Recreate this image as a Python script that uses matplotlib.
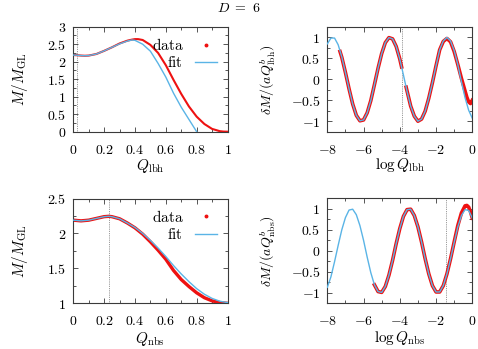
import matplotlib
matplotlib.use("Agg")
import matplotlib.pyplot as plt
from matplotlib.lines import Line2D
from matplotlib.ticker import MultipleLocator, FuncFormatter

plt.rcParams['mathtext.fontset'] = 'cm'
plt.rcParams['font.family'] = ['DejaVu Serif']

# ---------------- data ----------------
# top-left: M/M_GL vs Q_lbh
lbh_data_x = [0.0, 0.025, 0.05, 0.075, 0.1, 0.15, 0.2, 0.25, 0.3, 0.35, 0.38, 0.4, 0.42, 0.45,
              0.5, 0.55, 0.6, 0.65, 0.7, 0.75, 0.8, 0.85, 0.9, 0.95, 0.975, 1.0]
lbh_data_y = [2.19, 2.185, 2.175, 2.17, 2.175, 2.22, 2.31, 2.41, 2.52, 2.60, 2.63, 2.645, 2.645, 2.62,
              2.48, 2.25, 1.90, 1.48, 1.08, 0.72, 0.43, 0.22, 0.08, 0.015, 0.003, 0.0]
lbh_fit_x = [0.0, 0.025, 0.05, 0.075, 0.1, 0.15, 0.2, 0.25, 0.3, 0.35, 0.38, 0.4, 0.45,
             0.5, 0.55, 0.6, 0.65, 0.7, 0.75, 0.8, 0.81]
lbh_fit_y = [2.19, 2.185, 2.175, 2.17, 2.175, 2.22, 2.31, 2.41, 2.51, 2.59, 2.62, 2.61, 2.50,
             2.30, 1.95, 1.56, 1.10, 0.70, 0.35, 0.0, -0.08]
lbh_mark = 0.026

# top-right: deltaM/(aQ^b) vs log Q_lbh
lbh_log_fit_x = [-8.0, -7.8, -7.6, -7.4, -7.2, -7.0, -6.8, -6.6, -6.4, -6.2, -6.0, -5.8, -5.6, -5.4,
                 -5.2, -5.0, -4.8, -4.6, -4.4, -4.2, -4.0, -3.8, -3.6, -3.4, -3.2, -3.0, -2.8, -2.6,
                 -2.4, -2.2, -2.0, -1.8, -1.6, -1.4, -1.2, -1.0, -0.8, -0.6, -0.4, -0.2, 0.0]
lbh_log_fit_y = [0.84, 0.98, 0.98, 0.82, 0.53, 0.16, -0.23, -0.59, -0.86, -0.99, -0.97, -0.80, -0.51, -0.13,
                 0.26, 0.61, 0.87, 0.99, 0.96, 0.78, 0.48, 0.10, -0.29, -0.64, -0.88, -1.00, -0.95, -0.76,
                 -0.45, -0.08, 0.32, 0.70, 0.91, 0.995, 0.91, 0.68, 0.35, -0.06, -0.44, -0.74, -0.93]
lbh_log_data1_x = [-7.3, -7.2, -7.0, -6.8, -6.6, -6.4, -6.2, -6.0, -5.8, -5.6, -5.4, -5.2, -5.0,
                   -4.8, -4.6, -4.4, -4.2, -4.0, -3.9]
lbh_log_data1_y = [0.66, 0.52, 0.16, -0.23, -0.59, -0.86, -0.99, -0.97, -0.80, -0.51, -0.13, 0.26, 0.61,
                   0.87, 0.99, 0.96, 0.78, 0.48, 0.29]
lbh_log_data2_x = [-3.65, -3.4, -3.2, -3.0, -2.8, -2.6, -2.4, -2.2, -2.0, -1.8, -1.6, -1.4, -1.2,
                   -1.0, -0.8, -0.6, -0.4, -0.3, -0.2, -0.1, 0.0]
lbh_log_data2_y = [-0.19, -0.64, -0.88, -1.00, -0.95, -0.76, -0.45, -0.08, 0.32, 0.70, 0.90, 0.97, 0.89,
                   0.66, 0.35, 0.02, -0.28, -0.43, -0.54, -0.58, -0.50]
lbh_log_mark = -3.86

# bottom-left: M/M_GL vs Q_nbs
nbs_data_x = [0.0, 0.05, 0.1, 0.15, 0.2, 0.23, 0.25, 0.3, 0.35, 0.4, 0.45, 0.5, 0.55, 0.6, 0.65,
              0.7, 0.75, 0.8, 0.85, 0.9, 0.95, 1.0]
nbs_data_y = [2.19, 2.18, 2.19, 2.215, 2.24, 2.245, 2.24, 2.21, 2.15, 2.08, 1.99, 1.88, 1.76, 1.63, 1.47,
              1.34, 1.24, 1.15, 1.08, 1.035, 1.01, 1.0]
nbs_fit_x = [0.0, 0.05, 0.1, 0.15, 0.2, 0.23, 0.25, 0.3, 0.35, 0.4, 0.45, 0.5, 0.55, 0.6, 0.65,
             0.7, 0.75, 0.8, 0.85, 0.9, 0.95, 1.0]
nbs_fit_y = [2.19, 2.18, 2.19, 2.215, 2.24, 2.245, 2.24, 2.21, 2.15, 2.085, 2.0, 1.90, 1.79, 1.67, 1.54,
             1.42, 1.31, 1.21, 1.13, 1.07, 1.03, 1.01]
nbs_mark = 0.23

# bottom-right: deltaM/(aQ^b) vs log Q_nbs
nbs_log_fit_x = [-8.0, -7.8, -7.6, -7.4, -7.2, -7.0, -6.8, -6.6, -6.4, -6.2, -6.0, -5.8, -5.6, -5.4,
                 -5.2, -5.0, -4.8, -4.6, -4.4, -4.2, -4.0, -3.8, -3.6, -3.4, -3.2, -3.0, -2.8, -2.6,
                 -2.4, -2.2, -2.0, -1.8, -1.6, -1.4, -1.2, -1.0, -0.8, -0.6, -0.4, -0.2, 0.0]
nbs_log_fit_y = [-0.87, -0.62, -0.26, 0.13, 0.50, 0.79, 0.97, 0.99, 0.86, 0.60, 0.25, -0.15, -0.52, -0.81,
                 -0.97, -0.99, -0.85, -0.58, -0.23, 0.17, 0.53, 0.82, 0.98, 0.99, 0.84, 0.57, 0.21, -0.19,
                 -0.55, -0.83, -0.98, -0.98, -0.83, -0.55, -0.19, 0.20, 0.57, 0.84, 0.98, 0.96, 0.78]
nbs_log_data_x = [-5.4, -5.2, -5.0, -4.8, -4.6, -4.4, -4.2, -4.0, -3.8, -3.6, -3.4, -3.2, -3.0, -2.8,
                  -2.6, -2.4, -2.2, -2.0, -1.8, -1.6, -1.4, -1.2, -1.0, -0.8, -0.6, -0.4, -0.3, -0.2,
                  -0.1, 0.0]
nbs_log_data_y = [-0.81, -0.97, -0.99, -0.85, -0.58, -0.23, 0.17, 0.53, 0.82, 0.98, 0.99, 0.84, 0.57, 0.21,
                  -0.19, -0.55, -0.83, -0.98, -0.98, -0.83, -0.55, -0.19, 0.21, 0.60, 0.90, 1.07, 1.08, 1.04,
                  0.93, 0.78]
nbs_log_mark = -1.47

# ---------------- style ----------------
RED = '#ee1111'
BLUE = '#5ab4e6'
FRAME = '#3a3a3a'
FS = 10

W, H = 478, 349
fig = plt.figure(figsize=(W / 100, H / 100), dpi=100)

def fmt(v, pos):
    s = '%g' % v
    if s == '-0':
        s = '0'
    return '$' + s + '$'

def style(ax, xmaj, xmin, ymaj, ymin):
    ax.xaxis.set_major_locator(MultipleLocator(xmaj))
    ax.xaxis.set_minor_locator(MultipleLocator(xmin))
    ax.yaxis.set_major_locator(MultipleLocator(ymaj))
    ax.yaxis.set_minor_locator(MultipleLocator(ymin))
    ax.xaxis.set_major_formatter(FuncFormatter(fmt))
    ax.yaxis.set_major_formatter(FuncFormatter(fmt))
    ax.tick_params(which='both', direction='in', top=True, right=True, color=FRAME,
                   width=0.6, labelsize=FS)
    ax.tick_params(axis='x', which='major', pad=8)
    ax.tick_params(axis='y', which='major', pad=5)
    ax.tick_params(which='major', length=3.5)
    ax.tick_params(which='minor', length=2)
    for sp in ax.spines.values():
        sp.set_color(FRAME)
        sp.set_linewidth(0.8)

def labels(ax, xl, xly, yl, ylx, yfs):
    ax.set_xlabel(xl, fontsize=FS + 1, va='center')
    ax.xaxis.set_label_coords(0.5, xly)
    ax.set_ylabel(yl, fontsize=yfs, va='center')
    ax.yaxis.set_label_coords(ylx, 0.5)

def pos(l, t, r, b):
    return [l / W, 1 - b / H, (r - l) / W, (b - t) / H]

def legend(ax):
    h = [Line2D([], [], color=RED, marker='o', ms=1.8, ls=''),
         Line2D([], [], color=BLUE, lw=1.0)]
    ax.legend(h, [r'$\mathrm{data}$', r'$\mathrm{fit}$'], loc='upper right', frameon=False,
              markerfirst=False, fontsize=FS + 1, handlelength=1.4, handletextpad=0.8,
              borderaxespad=0.2, labelspacing=0.15, bbox_to_anchor=(0.99, 0.99))

def vline(ax, x):
    ax.axvline(x, color='#777777', lw=0.6, ls=(0, (1, 1.2)), zorder=1)

# top-left
ax1 = fig.add_axes(pos(73.3, 26.7, 227.5, 131.7))
vline(ax1, lbh_mark)
ax1.plot(lbh_data_x, lbh_data_y, color=RED, lw=1.5, zorder=2)
ax1.plot(lbh_fit_x, lbh_fit_y, color=BLUE, lw=1.0, zorder=3)
ax1.set_xlim(0, 1)
ax1.set_ylim(0, 3)
style(ax1, 0.2, 0.1, 0.5, 0.25)
legend(ax1)
labels(ax1, r'$Q_{\rm lbh}$', -0.33, r'$M/M_{\rm GL}$', -0.346, FS + 1)

# top-right
ax2 = fig.add_axes(pos(327.3, 26.7, 472.3, 131.7))
vline(ax2, lbh_log_mark)
ax2.plot(lbh_log_data1_x, lbh_log_data1_y, color=RED, lw=2.6, zorder=2)
ax2.plot(lbh_log_data2_x, lbh_log_data2_y, color=RED, lw=2.6, zorder=2)
ax2.plot(lbh_log_fit_x, lbh_log_fit_y, color=BLUE, lw=1.0, zorder=3)
ax2.set_xlim(-8, 0)
ax2.set_ylim(-1.25, 1.25)
style(ax2, 2, 1, 0.5, 0.25)
labels(ax2, r'$\log Q_{\rm lbh}$', -0.317, r'$\delta M/(aQ^b_{\rm lbh})$', -0.409, FS)

# bottom-left
ax3 = fig.add_axes(pos(73.3, 198.5, 227.5, 303.3))
vline(ax3, nbs_mark)
ax3.plot(nbs_data_x, nbs_data_y, color=RED, lw=2.4, zorder=2)
ax3.plot(nbs_fit_x, nbs_fit_y, color=BLUE, lw=1.0, zorder=3)
ax3.set_xlim(0, 1)
ax3.set_ylim(1, 2.5)
style(ax3, 0.2, 0.1, 0.5, 0.25)
legend(ax3)
labels(ax3, r'$Q_{\rm nbs}$', -0.345, r'$M/M_{\rm GL}$', -0.346, FS + 1)

# bottom-right
ax4 = fig.add_axes(pos(327.3, 198.3, 472.3, 303.3))
vline(ax4, nbs_log_mark)
ax4.plot(nbs_log_data_x, nbs_log_data_y, color=RED, lw=2.6, zorder=2)
ax4.plot(nbs_log_fit_x, nbs_log_fit_y, color=BLUE, lw=1.0, zorder=3)
ax4.set_xlim(-8, 0)
ax4.set_ylim(-1.25, 1.25)
style(ax4, 2, 1, 0.5, 0.25)
labels(ax4, r'$\log Q_{\rm nbs}$', -0.335, r'$\delta M/(aQ^b_{\rm nbs})$', -0.409, FS)

fig.text(0.5, 1 - 8 / H, r'$D\ =\ 6$', ha='center', va='center', fontsize=FS)

fig.savefig('out.png', dpi=100)
